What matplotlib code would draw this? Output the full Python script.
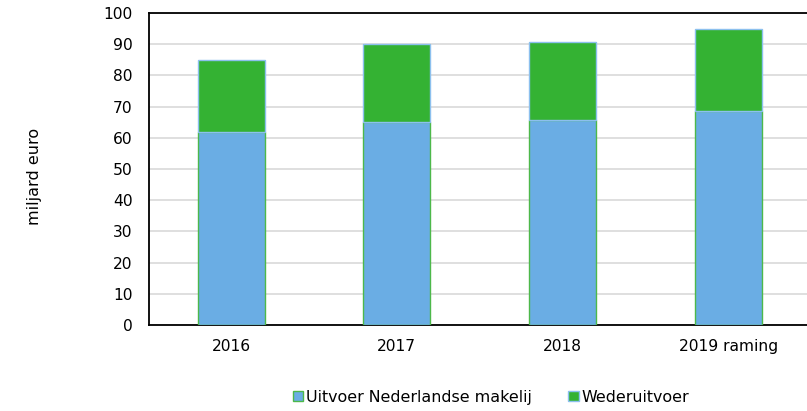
import numpy as np
import matplotlib
matplotlib.use("Agg")
import matplotlib.pyplot as plt

jaren = ["2016", "2017", "2018", "2019 raming"]
uitvoer_nl = [62.0, 65.2, 65.8, 68.7]
totaal = [84.9, 90.1, 90.6, 94.8]
wederuitvoer = [t - u for t, u in zip(totaal, uitvoer_nl)]

blauw = "#6AADE4"
groen = "#34B233"

plt.rcParams["font.family"] = ["DejaVu Sans"]
fig = plt.figure(figsize=(8.07, 4.11), dpi=100)
ax = fig.add_axes([148.5 / 807, 86 / 411, 662.4 / 807, 312 / 411])

x = np.arange(len(jaren))
ax.bar(x, uitvoer_nl, width=0.405, color=blauw, edgecolor="#4DB84A",
       linewidth=1.0, label="Uitvoer Nederlandse makelij", zorder=3)
ax.bar(x, wederuitvoer, width=0.405, bottom=uitvoer_nl, color=groen,
       edgecolor="#8CC0EE", linewidth=1.0, label="Wederuitvoer", zorder=3)

ax.set_xlim(-0.5, 3.5)
ax.set_ylim(0, 100)
ax.set_yticks(np.arange(0, 101, 10))
ax.set_xticks(x)
ax.set_xticklabels(jaren)
ax.yaxis.grid(True, color="#D9D9D9", linewidth=1.2, zorder=0)
ax.set_axisbelow(True)
ax.tick_params(axis="both", length=0, labelsize=11.2, colors="black")
ax.tick_params(axis="y", pad=11.5)
ax.tick_params(axis="x", pad=10)
for s in ["left", "bottom", "top"]:
    ax.spines[s].set_color("black")
    ax.spines[s].set_linewidth(1.3)
ax.spines["right"].set_visible(False)

fig.text(35 / 807, 1 - 176 / 411, "miljard euro", rotation=90,
         ha="center", va="center", fontsize=11.5)

fig.legend(loc="center", bbox_to_anchor=(491 / 807, 1 - 397 / 411),
           ncol=2, frameon=False, fontsize=11.4, handlelength=0.65,
           handleheight=0.65, handletextpad=0.2, columnspacing=2.3)

fig.savefig("out.png", dpi=100)
